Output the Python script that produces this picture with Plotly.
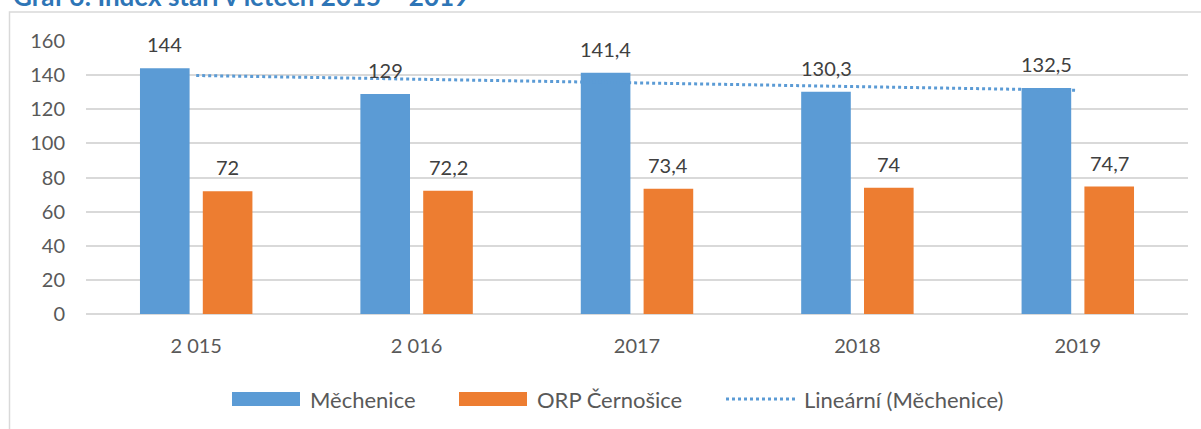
import numpy as np
import plotly.graph_objects as go

# ---- data ----
categories = ["2 015", "2 016", "2017", "2018", "2019"]
mechenice = [144, 129, 141.4, 130.3, 132.5]
orp_cernosice = [72, 72.2, 73.4, 74, 74.7]
series_names = ["Měchenice", "ORP Černošice", "Lineární (Měchenice)"]
title_text = "Graf 6: Index stáří v letech 2015 – 2019"
y_ticks = [0, 20, 40, 60, 80, 100, 120, 140, 160]

# linear trendline (least squares over the Měchenice series)
xi = np.arange(1, len(mechenice) + 1)
slope, intercept = np.polyfit(xi, mechenice, 1)
trend = slope * xi + intercept

BLUE = "#5B9BD5"
ORANGE = "#ED7D31"
GRID = "#D9D9D9"
TXT = "#595959"
LBL = "#404040"
FONT = "Lato"

W, H = 1201, 429
L, R, T, B = 86, 13, 41, 115
PW, PH = W - L - R, H - T - B


def px(x):
    return (x - L) / PW


def py(y):
    return (H - B - y) / PH


def fmt(v):
    s = ("%g" % v)
    return s.replace(".", ",")


fig = go.Figure()
fig.add_trace(go.Bar(x=categories, y=mechenice, name=series_names[0],
                     marker=dict(color=BLUE, line=dict(width=0)), showlegend=False))
fig.add_trace(go.Bar(x=categories, y=orp_cernosice, name=series_names[1],
                     marker=dict(color=ORANGE, line=dict(width=0)), showlegend=False))
fig.add_trace(go.Scatter(x=categories, y=trend, mode="lines", name=series_names[2],
                         line=dict(color=BLUE, width=3, dash="dot"), showlegend=False,
                         cliponaxis=False))

annotations = []
for i, v in enumerate(mechenice):
    annotations.append(dict(x=i, y=v, xref="x", yref="y", text=fmt(v), showarrow=False,
                            xanchor="center", yanchor="bottom", xshift=-31.4, yshift=10,
                            font=dict(family=FONT, size=20, color=LBL)))
for i, v in enumerate(orp_cernosice):
    annotations.append(dict(x=i, y=v, xref="x", yref="y", text=fmt(v), showarrow=False,
                            xanchor="center", yanchor="bottom", xshift=31.4, yshift=10,
                            font=dict(family=FONT, size=20, color=LBL)))

# title (partly cut off at the top, as in the reference)
annotations.append(dict(x=px(11), y=py(14), xref="paper", yref="paper", text="<b>" + title_text + "</b>",
                        showarrow=False, xanchor="left", yanchor="bottom",
                        font=dict(family=FONT, size=26, color="#2E75B6")))

# custom legend
shapes = []
# frame
shapes.append(dict(type="rect", xref="paper", yref="paper", x0=px(9.5), x1=px(1215),
                   y0=py(445), y1=py(12), line=dict(color=GRID, width=1.5), layer="below"))
leg_y = 399
shapes.append(dict(type="rect", xref="paper", yref="paper", x0=px(232), x1=px(300),
                   y0=py(leg_y + 7), y1=py(leg_y - 7), fillcolor=BLUE, line=dict(width=0)))
shapes.append(dict(type="rect", xref="paper", yref="paper", x0=px(459), x1=px(527),
                   y0=py(leg_y + 7), y1=py(leg_y - 7), fillcolor=ORANGE, line=dict(width=0)))
shapes.append(dict(type="line", xref="paper", yref="paper", x0=px(726), x1=px(795),
                   y0=py(leg_y), y1=py(leg_y), line=dict(color=BLUE, width=3, dash="dot")))
for xt, name in zip([308, 535, 802], series_names):
    annotations.append(dict(x=px(xt), y=py(leg_y), xref="paper", yref="paper", text=name,
                            showarrow=False, xanchor="left", yanchor="middle",
                            font=dict(family=FONT, size=22, color=TXT)))

fig.update_layout(
    width=W, height=H,
    margin=dict(l=L, r=R, t=T, b=B, autoexpand=False),
    paper_bgcolor="white", plot_bgcolor="white",
    barmode="group", bargap=0.43, bargroupgap=0.21,
    font=dict(family=FONT, size=20, color=TXT),
    annotations=annotations, shapes=shapes,
    showlegend=False,
)
fig.update_xaxes(type="category", range=[-0.5, len(categories) - 0.5], autorange=False,
                 showgrid=False, zeroline=False, showline=False,
                 ticks="", tickfont=dict(family=FONT, size=20, color=TXT), ticklabelstandoff=18)
fig.update_yaxes(range=[0, 160], autorange=False, tickvals=y_ticks, showgrid=True, gridcolor=GRID, gridwidth=1.5,
                 zeroline=True, zerolinecolor=GRID, zerolinewidth=1.5, showline=False, ticks="",
                 tickfont=dict(family=FONT, size=20, color=TXT), ticklabelstandoff=20)

fig.write_html("out.html", config={"displayModeBar": False},
               post_script="document.body.style.margin='0';document.body.style.overflow='hidden';")
